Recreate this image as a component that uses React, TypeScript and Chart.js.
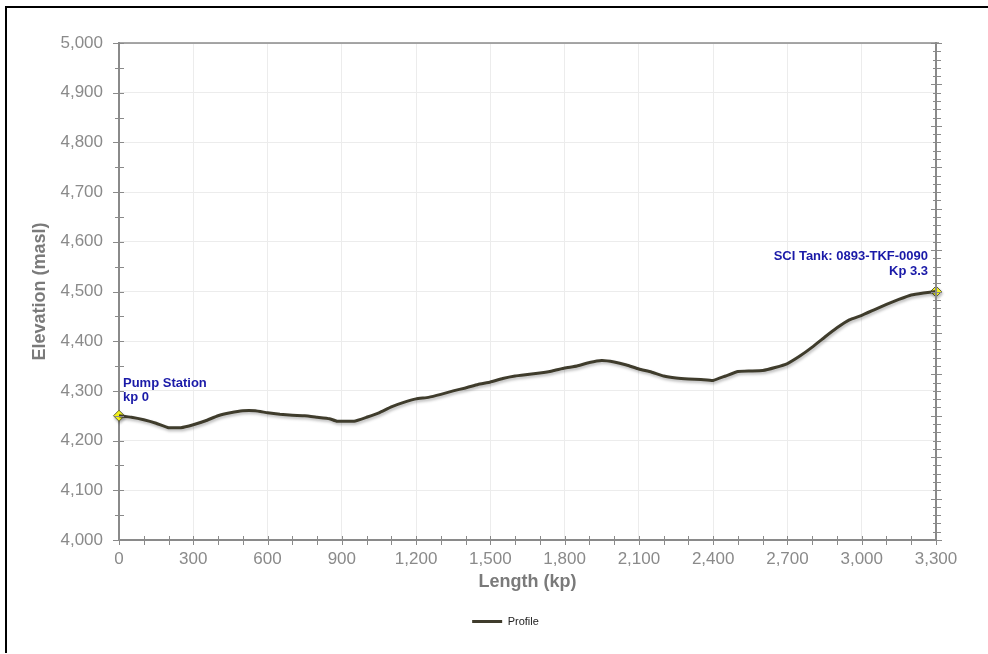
import React, { useEffect, useRef } from "react";
import { Chart, registerables } from "chart.js";

Chart.register(...registerables);

// Profile data (kp vs elevation in masl)
const kp = [
  0, 50, 100, 150, 200, 250, 300, 350, 400, 450, 500, 550, 600, 650, 700, 750, 800, 850, 880, 950,
  1000, 1050, 1100, 1150, 1200, 1250, 1300, 1350, 1400, 1450, 1500, 1550, 1600, 1650, 1700, 1750,
  1800, 1850, 1900, 1950, 2000, 2050, 2100, 2150, 2200, 2250, 2300, 2350, 2400, 2450, 2500, 2550,
  2600, 2650, 2700, 2750, 2800, 2850, 2900, 2950, 3000, 3050, 3100, 3150, 3200, 3250, 3300,
];
const elevation = [
  4250, 4247, 4242, 4235, 4226, 4226, 4232, 4240, 4250, 4256, 4260, 4260, 4256, 4253, 4251, 4250, 4247, 4244, 4239, 4239,
  4247, 4256, 4268, 4277, 4284, 4287, 4293, 4300, 4306, 4313, 4318, 4325, 4330, 4333, 4336, 4340,
  4346, 4350, 4357, 4361, 4358, 4352, 4344, 4338, 4330, 4326, 4324, 4323, 4321, 4330, 4339, 4340,
  4341, 4347, 4355, 4370, 4388, 4408, 4427, 4443, 4452, 4463, 4474, 4484, 4493, 4497, 4500,
];

// End markers
const markerKp = [0, 3300];
const markerElev = [4250, 4500];
const markerText = [
  ["Pump Station", "kp 0"],
  ["SCI Tank: 0893-TKF-0090", "Kp 3.3"],
];

// Axes
const xMin = 0;
const xMax = 3300;
const xStep = 300;
const xMinorStep = 100;
const yMin = 4000;
const yMax = 5000;
const yStep = 100;
const yMinorStep = 50;
const rightTickCount = 60;

const FONT = "'Liberation Sans', Arial, Helvetica, sans-serif";
const LINE_COLOR = "#3f3c2c";
const AXIS_COLOR = "#8a8a8a";
const LEGEND_SHIFT = 23;

const shadowPlugin = {
  id: "lineShadow",
  beforeDatasetsDraw(chart: any) {
    const ctx = chart.ctx;
    ctx.save();
    ctx.shadowColor = "rgba(0,0,0,0.28)";
    ctx.shadowBlur = 3;
    ctx.shadowOffsetX = 1;
    ctx.shadowOffsetY = 2;
  },
  afterDatasetsDraw(chart: any) {
    chart.ctx.restore();
  },
};

const legendShiftPlugin = {
  id: "legendShift",
  afterLayout(chart: any) {
    const lg = chart.legend;
    if (lg) {
      lg.left += LEGEND_SHIFT;
      lg.right += LEGEND_SHIFT;
    }
  },
};

const decorPlugin = {
  id: "axisDecor",
  afterDraw(chart: any) {
    const { ctx, chartArea: a, scales } = chart;
    const x = scales.x;
    const y = scales.y;
    const line = (x1: number, y1: number, x2: number, y2: number) => {
      ctx.beginPath();
      ctx.moveTo(x1, y1);
      ctx.lineTo(x2, y2);
      ctx.stroke();
    };
    ctx.save();
    ctx.strokeStyle = AXIS_COLOR;
    // top border
    ctx.lineWidth = 1.5;
    line(a.left, a.top, a.right + 3, a.top);
    // right border
    ctx.lineWidth = 2;
    line(a.right, a.top - 1, a.right, a.bottom);
    // left axis ticks
    ctx.lineWidth = 1;
    for (let v = yMin; v <= yMax; v += yMinorStep) {
      const yy = Math.round(y.getPixelForValue(v)) + 0.5;
      const major = (v - yMin) % yStep === 0;
      line(a.left - (major ? 6 : 4), yy, a.left + 5, yy);
    }
    // bottom axis ticks
    for (let v = xMin; v <= xMax; v += xMinorStep) {
      const xx = Math.round(x.getPixelForValue(v)) + 0.5;
      line(xx, a.bottom - 4, xx, a.bottom + 5);
    }
    // right axis ticks
    for (let i = 0; i <= rightTickCount; i++) {
      const yy = Math.round(a.top + (i * (a.bottom - a.top)) / rightTickCount) + 0.5;
      const long = i % 5 === 0;
      line(a.right - (long ? 5 : 3), yy, a.right + (long ? 6 : 5), yy);
    }
    // marker labels
    ctx.fillStyle = "#1a1aa8";
    ctx.font = `bold 13px ${FONT}`;
    ctx.textBaseline = "middle";
    markerKp.forEach((k, i) => {
      const px = x.getPixelForValue(k);
      const py = y.getPixelForValue(markerElev[i]);
      const lines = markerText[i];
      if (i === 0) {
        ctx.textAlign = "left";
        ctx.fillText(lines[0], px + 4, py - 32);
        ctx.fillText(lines[1], px + 4, py - 18);
      } else {
        ctx.textAlign = "right";
        ctx.fillText(lines[0], px - 8, py - 35);
        ctx.fillText(lines[1], px - 8, py - 20);
      }
    });
    ctx.restore();
  },
};

export default function App() {
  const canvasRef = useRef<HTMLCanvasElement | null>(null);

  useEffect(() => {
    if (!canvasRef.current) return;
    const chart = new Chart(canvasRef.current, {
      type: "line",
      data: {
        datasets: [
          {
            label: "Profile",
            data: kp.map((k, i) => ({ x: k, y: elevation[i] })),
            borderColor: LINE_COLOR,
            backgroundColor: LINE_COLOR,
            borderWidth: 3,
            pointRadius: 0,
            tension: 0.1,
            fill: false,
          },
          {
            label: "markers",
            data: markerKp.map((k, i) => ({ x: k, y: markerElev[i] })),
            showLine: false,
            pointStyle: "rectRot",
            pointRadius: 5.5,
            pointBackgroundColor: "#ffff1a",
            pointBorderColor: "#5e5e3a",
            pointBorderWidth: 1,
            backgroundColor: "#ffff1a",
            borderColor: "#5e5e3a",
          },
        ],
      },
      options: {
        animation: false,
        responsive: false,
        maintainAspectRatio: false,
        clip: false as any,
        layout: { padding: { left: 29, right: 52, top: 43, bottom: 17 } },
        plugins: {
          tooltip: { enabled: false },
          legend: {
            position: "bottom",
            labels: {
              filter: (item: any) => item.text === "Profile",
              usePointStyle: true,
              pointStyle: "line",
              pointStyleWidth: 30,
              color: "#222",
              font: { family: FONT, size: 11 },
              padding: 23,
            },
          },
        },
        scales: {
          x: {
            type: "linear",
            min: xMin,
            max: xMax,
            afterFit: (s: any) => {
              s.height = 53;
            },
            ticks: {
              stepSize: xStep,
              color: AXIS_COLOR,
              font: { family: FONT, size: 17 },
              padding: 9,
              maxRotation: 0,
            },
            grid: { color: "#ececec", drawTicks: false, lineWidth: 1 },
            border: { color: AXIS_COLOR, width: 2 },
            title: {
              display: true,
              text: "Length (kp)",
              color: "#7a7a7a",
              font: { family: FONT, size: 18, weight: "bold" },
              padding: { top: 0, bottom: 0 },
            },
          },
          y: {
            type: "linear",
            min: yMin,
            max: yMax,
            afterFit: (s: any) => {
              s.width = 90;
            },
            ticks: {
              stepSize: yStep,
              color: AXIS_COLOR,
              font: { family: FONT, size: 17 },
              padding: 16,
            },
            grid: { color: "#ececec", drawTicks: false, lineWidth: 1 },
            border: { color: AXIS_COLOR, width: 2 },
            title: {
              display: true,
              text: "Elevation (masl)",
              color: "#7a7a7a",
              font: { family: FONT, size: 18, weight: "bold" },
              padding: { top: 0, bottom: 0 },
            },
          },
        },
      },
      plugins: [shadowPlugin, legendShiftPlugin, decorPlugin],
    } as any);
    return () => chart.destroy();
  }, []);

  return (
    <div style={{ position: "absolute", left: 0, top: 0, width: 988, height: 654, background: "#fff", overflow: "hidden" }}>
      <div
        style={{
          position: "absolute",
          left: 5,
          top: 6,
          width: 990,
          height: 647,
          borderLeft: "2px solid #000",
          borderTop: "2px solid #000",
          boxSizing: "border-box",
        }}
      />
      <canvas ref={canvasRef} width={988} height={654} style={{ position: "absolute", left: 0, top: 0 }} />
    </div>
  );
}
